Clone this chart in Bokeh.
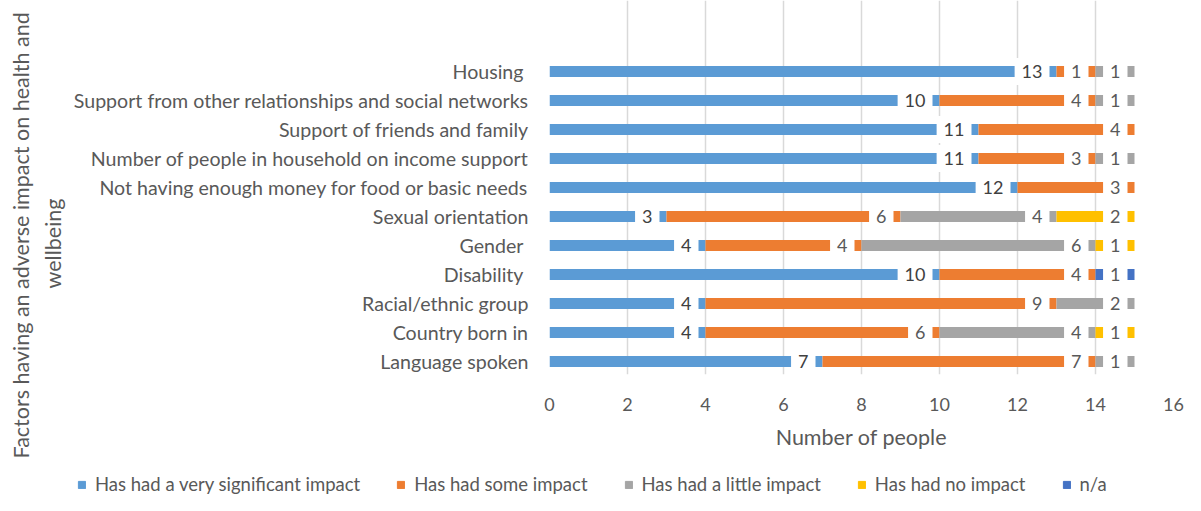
from bokeh.plotting import figure
from bokeh.layouts import column, row
from bokeh.models import ColumnDataSource, FixedTicker, Legend, Title, Range1d
from bokeh.core.properties import value
from bokeh.embed import file_html
from bokeh.resources import INLINE

categories = ["Housing ", "Support from other relationships and social networks",
              "Support of friends and family", "Number of people in household on income support",
              "Not having enough money for food or basic needs", "Sexual orientation",
              "Gender ", "Disability ", "Racial/ethnic group", "Country born in", "Language spoken"]
very_significant = [13, 10, 11, 11, 12, 3, 4, 10, 4, 4, 7]
some_impact = [1, 4, 4, 3, 3, 6, 4, 4, 9, 6, 7]
little_impact = [1, 1, 0, 1, 0, 4, 6, 0, 2, 4, 1]
no_impact = [0, 0, 0, 0, 0, 2, 1, 0, 0, 1, 0]
not_applicable = [0, 0, 0, 0, 0, 0, 0, 1, 0, 0, 0]
series_names = ["Has had a very significant impact", "Has had some impact",
                "Has had a little impact", "Has had no impact", "n/a"]
x_ticks = [0, 2, 4, 6, 8, 10, 12, 14, 16]
y_title_lines = ["Factors having an adverse impact on health and", "wellbeing"]
x_title = "Number of people"

colors = ["#5B9BD5", "#ED7D31", "#A5A5A5", "#FFC000", "#4472C4"]
FONT = "Lato"
GREY = "#595959"
n = len(categories)
ypos = [n - 1 - k for k in range(n)]
keys = ["s0", "s1", "s2", "s3", "s4"]
series = [very_significant, some_impact, little_impact, no_impact, not_applicable]

data = {"y": ypos}
for k, s in zip(keys, series):
    data[k] = s
source = ColumnDataSource(data)

# ---------------- main chart ----------------
p = figure(width=1185, height=460, output_backend="svg", toolbar_location=None,
           x_range=Range1d(0, 16), y_range=Range1d(-0.45, 12.45),
           min_border_left=549, min_border_right=12, min_border_top=0, min_border_bottom=86)
p.outline_line_color = None

renderers = p.hbar_stack(keys, y="y", height=0.38, color=colors, source=source,
                         line_color=None)

# data labels (white boxed, inside end)
cum = [0] * n
for idx, s in enumerate(series):
    xs, ys, ts = [], [], []
    for k in range(n):
        cum[k] += s[k]
        if s[k] > 0:
            xs.append(cum[k]); ys.append(ypos[k]); ts.append(str(s[k]))
    lsrc = ColumnDataSource(dict(x=xs, y=ys, t=ts))
    p.text(x="x", y="y", text="t", source=lsrc, text_align="right", text_baseline="middle",
           x_offset=-7, text_font=value(FONT), text_font_size="18px",
           text_color="#404040" if idx == 0 else GREY,
           background_fill_color="white", padding=7)

p.xaxis.ticker = FixedTicker(ticks=x_ticks)
p.xaxis.axis_line_color = None
p.xaxis.major_tick_line_color = None
p.xaxis.minor_tick_line_color = None
p.xaxis.major_label_text_font = FONT
p.xaxis.major_label_text_font_size = "18px"
p.xaxis.major_label_text_color = GREY
p.xaxis.major_label_standoff = 17
p.xaxis.axis_label = x_title
p.xaxis.axis_label_text_font = FONT
p.xaxis.axis_label_text_font_size = "21.5px"
p.xaxis.axis_label_text_font_style = "normal"
p.xaxis.axis_label_text_color = GREY
p.xaxis.axis_label_standoff = 10

p.yaxis.ticker = FixedTicker(ticks=ypos)
p.yaxis.major_label_overrides = {y: c for y, c in zip(ypos, categories)}
p.yaxis.axis_line_color = None
p.yaxis.major_tick_line_color = None
p.yaxis.minor_tick_line_color = None
p.yaxis.major_label_text_font = FONT
p.yaxis.major_label_text_font_size = "19.6px"
p.yaxis.major_label_text_color = GREY
p.yaxis.major_label_standoff = 15

p.xgrid.grid_line_color = "#D9D9D9"
p.xgrid.grid_line_width = 1.5
p.ygrid.grid_line_color = None

# y-axis title: two lines, added nearest-first to the left panel
for txt, off, so in [(y_title_lines[1], 86, 9), (y_title_lines[0], -84, 0)]:
    p.add_layout(Title(text=txt, align="left", offset=off, standoff=so,
                       text_font=FONT, text_font_size="21.5px", text_font_style="normal",
                       text_color=GREY), "left")

# ---------------- legend panel ----------------
pl = figure(width=1185, height=35, output_backend="svg", toolbar_location=None,
            x_range=Range1d(0, 20), y_range=Range1d(100, 101), min_border=0)
pl.axis.visible = False
pl.grid.grid_line_color = None
pl.outline_line_color = None
leg_renderers = [pl.hbar(y=ypos, right=s, height=0.5, color=c) for s, c in zip(series, colors)]
legend = Legend(items=[(name, [r]) for name, r in zip(series_names, leg_renderers)],
                orientation="horizontal", location=(77, 0),
                glyph_width=9, glyph_height=9, label_standoff=9, spacing=36,
                padding=0, margin=0, border_line_color=None, background_fill_alpha=0,
                label_text_font=FONT, label_text_font_size="18.5px", label_text_color=GREY)
pl.add_layout(legend, "center")

layout = column(row(p, spacing=0), pl, spacing=0)
open("out.html", "w").write(file_html(layout, INLINE))
